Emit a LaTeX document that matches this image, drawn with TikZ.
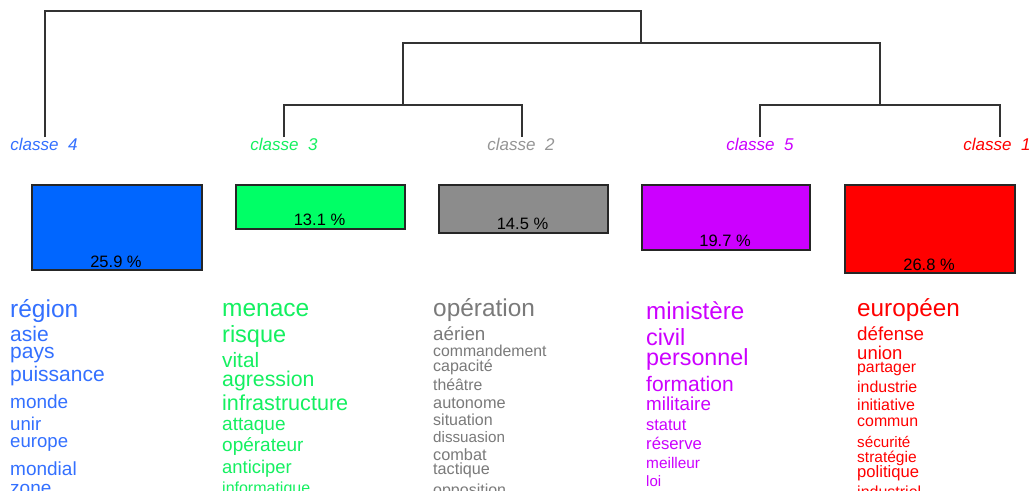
\documentclass[tikz,border=0pt]{standalone}
\usepackage{fontspec}
\setmainfont{Liberation Sans}
\definecolor{cblue}{HTML}{0066FF}
\definecolor{tblue}{HTML}{3370FF}
\definecolor{cgreen}{HTML}{00FF66}
\definecolor{tgreen}{HTML}{14F060}
\definecolor{cgray}{HTML}{8C8C8C}
\definecolor{tgray}{HTML}{7A7A7A}
\definecolor{cpurple}{HTML}{CC00FF}
\definecolor{cred}{HTML}{FF0000}
\definecolor{treelinec}{HTML}{333333}
\newcommand\wsz[1]{\fontsize{#1}{#1}\selectfont}
\tikzset{
  treeline/.style={draw=treelinec, line width=1.6pt},
  classlabel/.style={anchor=base, inner sep=0pt, font=\wsz{17}\itshape},
  classbox/.style={draw=black!85, line width=1.5pt, anchor=north west, inner sep=0pt},
  pct/.style={anchor=base, inner sep=0pt, font=\wsz{16.5}, text=black},
  word/.style={anchor=base west, inner sep=0pt},
}
\begin{document}
\begin{tikzpicture}[x=1pt,y=-1pt]
\useasboundingbox (0,0) rectangle (1035,490);
\clip (0,0) rectangle (1035,490);
\fill[white] (0,0) rectangle (1035,490);

% class labels
\node[classlabel, text=tblue] (c4) at (44,150) {classe\ \ 4};
\node[classlabel, text=tgreen] (c3) at (284,150) {classe\ \ 3};
\node[classlabel, text=tgray!80] (c2) at (521,150) {classe\ \ 2};
\node[classlabel, text=cpurple] (c5) at (760,150) {classe\ \ 5};
\node[classlabel, text=cred] (c1) at (997,150) {classe\ \ 1};

% leaf tops
\coordinate (l4) at (45,137);
\coordinate (l3) at (284,137);
\coordinate (l2) at (522,137);
\coordinate (l5) at (760,137);
\coordinate (l1) at (1000,137);
% merge points
\coordinate (m32) at (403,105);
\coordinate (m51) at (880,105);
\coordinate (m3251) at (641,43);
\coordinate (mroot) at (641,11);

\draw[treeline] (l3) |- (m32) -| (l2);
\draw[treeline] (l5) |- (m51) -| (l1);
\draw[treeline] (m32) |- (m3251) -| (m51);
\draw[treeline] (l4) |- (mroot) -- (m3251);

% boxes
\node[classbox, fill=cblue, minimum width=170pt, minimum height=85pt] (b4) at (31,184) {};
\node[classbox, fill=cgreen, minimum width=169pt, minimum height=44pt] (b3) at (235,184) {};
\node[classbox, fill=cgray, minimum width=169pt, minimum height=48pt] (b2) at (438,184) {};
\node[classbox, fill=cpurple, minimum width=168pt, minimum height=65pt] (b5) at (641,184) {};
\node[classbox, fill=cred, minimum width=170pt, minimum height=88pt] (b1) at (844,184) {};

\node[pct] (p4) at (116,267.5) {25.9 \%};
\node[pct] (p3) at (319.5,225) {13.1 \%};
\node[pct] (p2) at (522.5,229.5) {14.5 \%};
\node[pct] (p5) at (725,246.5) {19.7 \%};
\node[pct] (p1) at (929,270.5) {26.8 \%};

% class 4 words
\begin{scope}[every node/.style={word, text=tblue}]
\node[font=\wsz{24.5}] (w4a) at (10,317) {région};
\node[font=\wsz{21}] (w4b) at (10,341) {asie};
\node[font=\wsz{21}] (w4c) at (10,358) {pays};
\node[font=\wsz{21}] (w4d) at (10,381.5) {puissance};
\node[font=\wsz{19}] (w4e) at (10,408) {monde};
\node[font=\wsz{18.6}] (w4f) at (10,430.5) {unir};
\node[font=\wsz{18.6}] (w4g) at (10,447.5) {europe};
\node[font=\wsz{19}] (w4h) at (10,475) {mondial};
\node[font=\wsz{19}] (w4i) at (10,494) {zone};
\end{scope}

% class 3 words
\begin{scope}[every node/.style={word, text=tgreen}]
\node[font=\wsz{24.5}] (w3a) at (222,316.7) {menace};
\node[font=\wsz{23.5}] (w3b) at (222,342.7) {risque};
\node[font=\wsz{20.8}] (w3c) at (222,367) {vital};
\node[font=\wsz{21.3}] (w3d) at (222,386) {agression};
\node[font=\wsz{21.6}] (w3e) at (222,410) {infrastructure};
\node[font=\wsz{19}] (w3f) at (222,430) {attaque};
\node[font=\wsz{19}] (w3g) at (222,451.7) {opérateur};
\node[font=\wsz{18.4}] (w3h) at (222,473) {anticiper};
\node[font=\wsz{16}] (w3i) at (222,493.5) {informatique};
\end{scope}

% class 2 words
\begin{scope}[every node/.style={word, text=tgray}]
\node[font=\wsz{24.4}] (w2a) at (433,316.7) {opération};
\node[font=\wsz{18.8}] (w2b) at (433,340) {aérien};
\node[font=\wsz{15.8}] (w2c) at (433,356) {commandement};
\node[font=\wsz{16}] (w2d) at (433,371.7) {capacité};
\node[font=\wsz{15.8}] (w2e) at (433,390) {théâtre};
\node[font=\wsz{16.3}] (w2f) at (433,408) {autonome};
\node[font=\wsz{16}] (w2g) at (433,425) {situation};
\node[font=\wsz{15.2}] (w2h) at (433,442.7) {dissuasion};
\node[font=\wsz{16.3}] (w2i) at (433,460) {combat};
\node[font=\wsz{16.2}] (w2j) at (433,474) {tactique};
\node[font=\wsz{16}] (w2k) at (433,495) {opposition};
\end{scope}

% class 5 words
\begin{scope}[every node/.style={word, text=cpurple}]
\node[font=\wsz{24.2}] (w5a) at (646,319) {ministère};
\node[font=\wsz{23.4}] (w5b) at (646,345) {civil};
\node[font=\wsz{23.3}] (w5c) at (646,365) {personnel};
\node[font=\wsz{21}] (w5d) at (646,391.7) {formation};
\node[font=\wsz{18.8}] (w5e) at (646,410.7) {militaire};
\node[font=\wsz{16.4}] (w5f) at (646,430.7) {statut};
\node[font=\wsz{16.7}] (w5g) at (646,449) {réserve};
\node[font=\wsz{15.4}] (w5h) at (646,468) {meilleur};
\node[font=\wsz{15}] (w5i) at (646,486.7) {loi};
\end{scope}

% class 1 words
\begin{scope}[every node/.style={word, text=cred}]
\node[font=\wsz{24.3}] (w1a) at (857,316.7) {européen};
\node[font=\wsz{18.8}] (w1b) at (857,340) {défense};
\node[font=\wsz{18.5}] (w1c) at (857,359) {union};
\node[font=\wsz{15.8}] (w1d) at (857,372.7) {partager};
\node[font=\wsz{15.9}] (w1e) at (857,392.7) {industrie};
\node[font=\wsz{16}] (w1f) at (857,410) {initiative};
\node[font=\wsz{15.9}] (w1g) at (857,426.7) {commun};
\node[font=\wsz{15.2}] (w1h) at (857,447) {sécurité};
\node[font=\wsz{15.5}] (w1i) at (857,462.7) {stratégie};
\node[font=\wsz{16.6}] (w1j) at (857,477.3) {politique};
\node[font=\wsz{16}] (w1k) at (857,497) {industriel};
\end{scope}
\end{tikzpicture}
\end{document}
